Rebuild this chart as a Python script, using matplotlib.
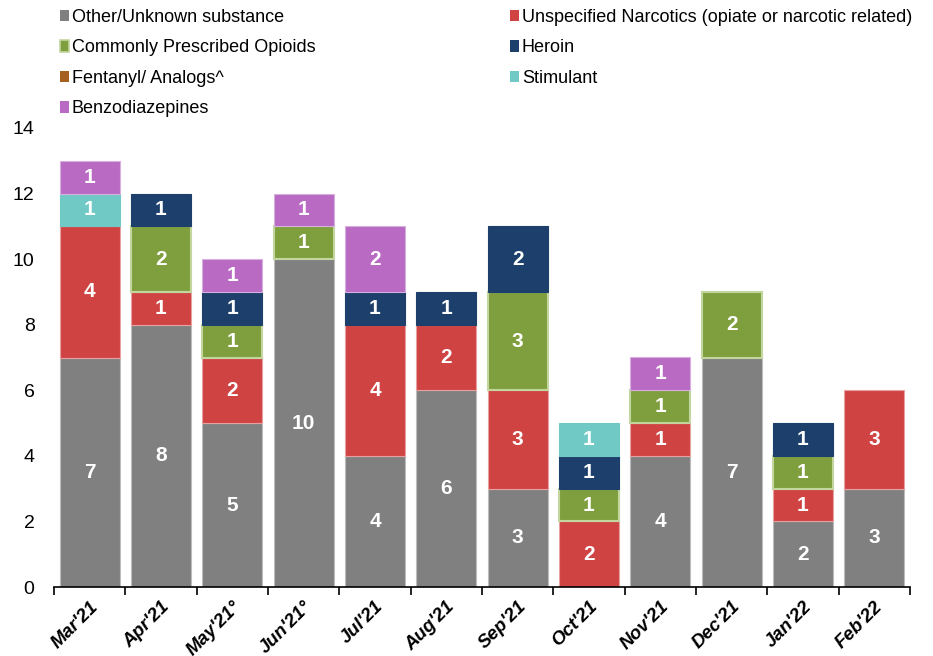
import matplotlib
matplotlib.use("Agg")
import matplotlib.pyplot as plt
from matplotlib.patches import Patch
import numpy as np

plt.rcParams['font.family'] = ['Liberation Sans', 'DejaVu Sans']

months = ["Mar'21", "Apr'21", "May'21°", "Jun'21°", "Jul'21", "Aug'21", "Sep'21",
          "Oct'21", "Nov'21", "Dec'21", "Jan'22", "Feb'22"]
series_names = ["Other/Unknown substance",
                "Unspecified Narcotics (opiate or narcotic related)",
                "Commonly Prescribed Opioids", "Heroin", "Fentanyl/ Analogs^",
                "Stimulant", "Benzodiazepines"]
other = [7, 8, 5, 10, 4, 6, 3, 0, 4, 7, 2, 3]
unspecified = [4, 1, 2, 0, 4, 2, 3, 2, 1, 0, 1, 3]
prescribed = [0, 2, 1, 1, 0, 0, 3, 1, 1, 2, 1, 0]
heroin = [0, 1, 1, 0, 1, 1, 2, 1, 0, 0, 1, 0]
fentanyl = [0, 0, 0, 0, 0, 0, 0, 0, 0, 0, 0, 0]
stimulant = [1, 0, 0, 0, 0, 0, 0, 1, 0, 0, 0, 0]
benzo = [1, 0, 1, 1, 2, 0, 0, 0, 1, 0, 0, 0]

colors = ["#808080", "#D04343", "#7F9F3F", "#1D3F6B", "#A5601F", "#70C9C5", "#B96AC3"]
edges = ["#BDBDBD", "#E8A0A0", "#C3D6A0", "#1D3F6B", "#A5601F", "#70C9C5", "#D8B0E0"]

data = [other, unspecified, prescribed, heroin, fentanyl, stimulant, benzo]

fig = plt.figure(figsize=(9.33, 6.56), dpi=100)
ax = fig.add_axes([54/933, 1-587/656, (910-54)/933, (587-128)/656])

x = np.arange(len(months))
bottom = np.zeros(len(months))
for i, (vals, name) in enumerate(zip(data, series_names)):
    vals = np.array(vals, dtype=float)
    base_lw = 1.5 if i == 2 else 0.8
    lws = [base_lw if v > 0 else 0 for v in vals]
    ax.bar(x, vals, width=0.84, bottom=bottom, color=colors[i],
           edgecolor=edges[i], linewidth=lws, label=name)
    for xi, v, b in zip(x, vals, bottom):
        if v > 0:
            ax.text(xi, b + v/2, f"{int(v)}", ha='center', va='center',
                    color='white', fontsize=15, fontweight='bold')
    bottom += vals

ax.set_xlim(-0.5, len(months) - 0.5)
ax.set_ylim(0, 14)
ax.set_yticks(range(0, 15, 2))
ax.tick_params(axis='y', length=0, labelsize=14, pad=14)
for s in ['left', 'right', 'top']:
    ax.spines[s].set_visible(False)
ax.spines['bottom'].set_linewidth(1.2)

ax.set_xticks(x)
ax.set_xticklabels(months, rotation=45, ha='right', rotation_mode='anchor',
                   fontsize=13.5, fontweight='bold', fontstyle='italic')
ax.tick_params(axis='x', which='major', length=0, pad=8)
ax.set_xticks(np.arange(-0.5, len(months)), minor=True)
ax.tick_params(axis='x', which='minor', length=6, width=1.2, direction='out')

order = [0, 2, 4, 6, 1, 3, 5]
leg_handles = [Patch(facecolor=colors[i], edgecolor=edges[i] if i == 2 else colors[i],
                     linewidth=1.2 if i == 2 else 0) for i in order]
fig.legend(leg_handles, [series_names[i] for i in order],
           ncol=2, loc='upper left', bbox_to_anchor=(58/933, 1 - 7/656),
           frameon=False, fontsize=13, handlelength=0.5, handleheight=0.6,
           handletextpad=0.15, labelspacing=0.75, columnspacing=10.8,
           borderpad=0.1, borderaxespad=0)

fig.savefig("out.png", dpi=100)
